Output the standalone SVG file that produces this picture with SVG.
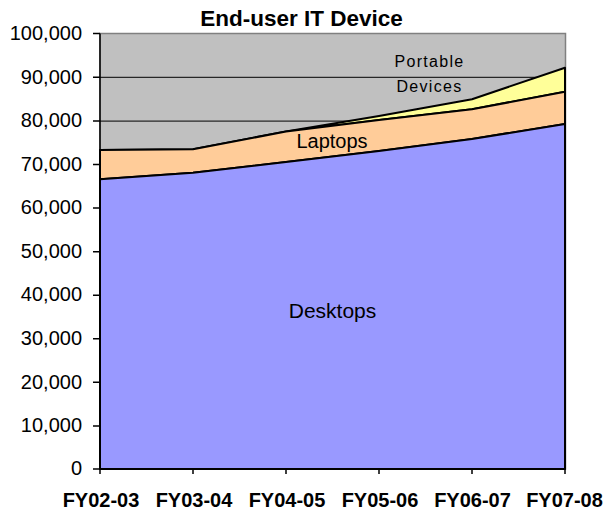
<svg xmlns="http://www.w3.org/2000/svg" width="608" height="513" viewBox="0 0 608 513">
  <style>
    .lbl { font-family: "Liberation Sans", Arial, sans-serif; fill: #000; }
    .ytick { font-size: 20px; text-anchor: end; }
    .xtick { font-size: 20px; font-weight: bold; text-anchor: middle; }
    .title { font-size: 22.5px; font-weight: bold; text-anchor: middle; }
    .series { stroke: #000; stroke-width: 2; stroke-linejoin: round; }
    .grid { stroke: #000; stroke-width: 1; }
    .axis { stroke: #000; stroke-width: 1.5; fill: none; }
  </style>
  <rect width="608" height="513" fill="#fff"/>

  <!-- title -->
  <text class="lbl title" x="301.5" y="26">End-user IT Device</text>

  <!-- plot area -->
  <g id="plot-area">
    <rect x="100" y="33.5" width="465.5" height="435.5" fill="#C0C0C0" stroke="#808080" stroke-width="1.5"/>
    <g id="gridlines">
      <line class="grid" x1="100" y1="77.3" x2="565" y2="77.3"/>
      <line class="grid" x1="100" y1="121.1" x2="565" y2="121.1"/>
      <line class="grid" x1="100" y1="164.6" x2="565" y2="164.6"/>
      <line class="grid" x1="100" y1="208.1" x2="565" y2="208.1"/>
      <line class="grid" x1="100" y1="251.7" x2="565" y2="251.7"/>
      <line class="grid" x1="100" y1="295.2" x2="565" y2="295.2"/>
      <line class="grid" x1="100" y1="338.8" x2="565" y2="338.8"/>
      <line class="grid" x1="100" y1="382.3" x2="565" y2="382.3"/>
      <line class="grid" x1="100" y1="425.9" x2="565" y2="425.9"/>
    </g>
  </g>

  <!-- stacked series -->
  <g id="series-portable">
    <polygon class="series" fill="#FFFF99" points="100,150 193,149.3 286,131.5 379,116 472,99.3 565,67.7 565,91.7 472,109.3 379,120 286,131.5 193,149.3 100,150"/>
  </g>
  <g id="series-laptops">
    <polygon class="series" fill="#FFCC99" points="100,150 193,149.3 286,131.5 379,120 472,109.3 565,91.7 565,124 472,139 379,151 286,162 193,172.7 100,179.3"/>
  </g>
  <g id="series-desktops">
    <polygon class="series" fill="#9999FF" points="100,179.3 193,172.7 286,162 379,151 472,139 565,124 565,469 100,469"/>
  </g>

  <!-- series labels -->
  <text class="lbl" x="429.5" y="67.3" font-size="16" letter-spacing="1.3" text-anchor="middle">Portable</text>
  <text class="lbl" x="429.5" y="91.7" font-size="16" letter-spacing="1.3" text-anchor="middle">Devices</text>
  <text class="lbl" x="332" y="148.3" font-size="20" text-anchor="middle">Laptops</text>
  <text class="lbl" x="332.5" y="318.3" font-size="21" text-anchor="middle">Desktops</text>

  <!-- axes -->
  <g id="axes">
    <path class="axis" d="M100,33.5 V469 H565.5"/>
    <path class="axis" d="M93,33.5 H100 M93,77.3 H100 M93,121.1 H100 M93,164.6 H100 M93,208.1 H100 M93,251.7 H100 M93,295.2 H100 M93,338.8 H100 M93,382.3 H100 M93,425.9 H100 M93,469 H100"/>
    <path class="axis" d="M100,469 V474 M193,469 V474 M286,469 V474 M379,469 V474 M472,469 V474 M565,469 V474"/>
  </g>

  <!-- y tick labels -->
  <g id="y-labels">
    <text class="lbl ytick" x="82" y="39.7">100,000</text>
    <text class="lbl ytick" x="82" y="83.5">90,000</text>
    <text class="lbl ytick" x="82" y="127.3">80,000</text>
    <text class="lbl ytick" x="82" y="170.8">70,000</text>
    <text class="lbl ytick" x="82" y="214.3">60,000</text>
    <text class="lbl ytick" x="82" y="257.9">50,000</text>
    <text class="lbl ytick" x="82" y="301.4">40,000</text>
    <text class="lbl ytick" x="82" y="345">30,000</text>
    <text class="lbl ytick" x="82" y="388.5">20,000</text>
    <text class="lbl ytick" x="82" y="432.1">10,000</text>
    <text class="lbl ytick" x="82" y="475.2">0</text>
  </g>

  <!-- x tick labels -->
  <g id="x-labels">
    <text class="lbl xtick" x="101" y="507.3">FY02-03</text>
    <text class="lbl xtick" x="194" y="507.3">FY03-04</text>
    <text class="lbl xtick" x="287" y="507.3">FY04-05</text>
    <text class="lbl xtick" x="380" y="507.3">FY05-06</text>
    <text class="lbl xtick" x="472.5" y="507.3">FY06-07</text>
    <text class="lbl xtick" x="564.5" y="507.3">FY07-08</text>
  </g>
</svg>
